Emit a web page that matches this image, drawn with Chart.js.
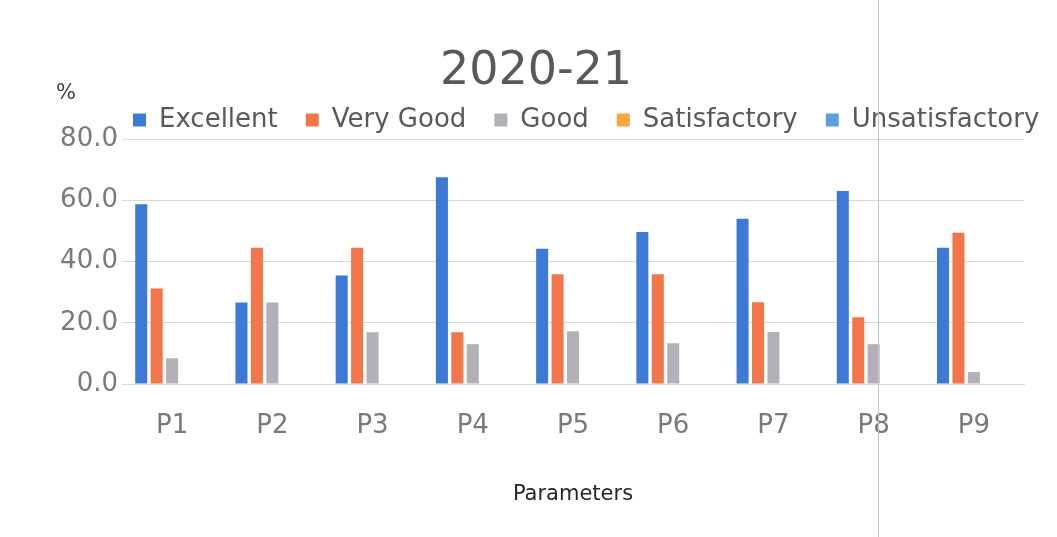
<!DOCTYPE html>
<html>
<head>
<meta charset="utf-8">
<script src="https://cdn.jsdelivr.net/npm/chart.js@4.4.1/dist/chart.umd.min.js"></script>
<style>
    html, body { margin: 0; padding: 0; background: #fff; }
    #wrap { position: relative; width: 1057px; height: 537px; }
    #scanline { position: absolute; left: 878px; top: 0; width: 1px; height: 537px; background: #c4c4c4; }
</style>
</head>
<body>
<div id="wrap">
    <canvas id="chart" width="1057" height="537"></canvas>
    <div id="scanline"></div>
</div>
<script>
// values (%)
const params = ["P1", "P2", "P3", "P4", "P5", "P6", "P7", "P8", "P9"];
const excellent = [58.7, 26.6, 35.4, 67.5, 44.2, 49.6, 54.0, 63.0, 44.5];
const veryGood = [31.2, 44.5, 44.5, 16.9, 35.8, 35.8, 26.7, 21.8, 49.4];
const good = [8.4, 26.6, 16.9, 13.0, 17.2, 13.3, 17.0, 13.0, 3.9];
const satisfactory = [0, 0, 0, 0, 0, 0, 0, 0, 0];
const unsatisfactory = [0, 0, 0, 0, 0, 0, 0, 0, 0];
const yTicks = [0, 20, 40, 60, 80];

const colors = ["#3d7ad6", "#f2764a", "#b3b0b8", "#f9a93b", "#5aa0e0"];
const names = ["Excellent", "Very Good", "Good", "Satisfactory", "Unsatisfactory"];
const series = [excellent, veryGood, good, satisfactory, unsatisfactory];

const FONT = "'DejaVu Sans', sans-serif";

// nudge title and legend to where they sit in the original, draw the "%" unit
const placement = {
    id: "placement",
    afterLayout(chart) {
        chart.titleBlock.left += 24;
        chart.titleBlock.right += 24;
        chart.legend.left = 105;
        chart.legend.right = 1400;
        chart.legend.top += 4;
        chart.legend.bottom += 4;
    },
    afterDraw(chart) {
        const ctx = chart.ctx;
        ctx.save();
        ctx.font = "21px " + FONT;
        ctx.fillStyle = "#404040";
        ctx.textAlign = "center";
        ctx.textBaseline = "middle";
        ctx.fillText("%", 66, 94);
        ctx.restore();
    }
};

var ds = [];
for (var i = 0; i < series.length; i++) {
    ds.push({
        label: names[i],
        data: series[i],
        backgroundColor: colors[i],
        borderWidth: 0,
        barPercentage: 0.78,
        categoryPercentage: 0.77,
    });
}

new Chart(document.getElementById("chart"), {
    type: "bar",
    data: { labels: params, datasets: ds },
    plugins: [placement],
    options: {
        responsive: false,
        animation: false,
        layout: { padding: { top: 56, right: 33, bottom: 0, left: 0 } },
        plugins: {
            title: {
                display: true,
                text: "2020-21",
                color: "#595959",
                font: { family: FONT, size: 46, weight: "normal", lineHeight: 0.5 },
                padding: { top: 5, bottom: -9 },
            },
            legend: {
                display: true,
                align: "start",
                labels: {
                    boxWidth: 13,
                    boxHeight: 13,
                    padding: 28,
                    color: "#595959",
                    font: { family: FONT, size: 26 },
                },
            },
            tooltip: { enabled: false },
        },
        scales: {
            x: {
                grid: { display: false, drawTicks: false },
                border: { display: true, color: "#d9d9d9" },
                ticks: { color: "#7a7a7a", padding: 27, font: { family: FONT, size: 26 } },
                title: {
                    display: true,
                    text: "Parameters",
                    color: "#262626",
                    font: { family: FONT, size: 21 },
                    padding: { top: 0, bottom: 30 },
                },
                afterFit(scale) { scale.height = 153; },
            },
            y: {
                min: 0,
                max: 80,
                afterBuildTicks(scale) { scale.ticks = yTicks.map(v => ({ value: v })); },
                grid: { color: "#d9d9d9", drawTicks: false },
                border: { display: false },
                ticks: {
                    color: "#7a7a7a",
                    padding: 4,
                    font: { family: FONT, size: 26 },
                    callback: v => v.toFixed(1),
                },
                afterFit(scale) { scale.width = 122; },
            },
        },
    },
});
</script>
</body>
</html>
